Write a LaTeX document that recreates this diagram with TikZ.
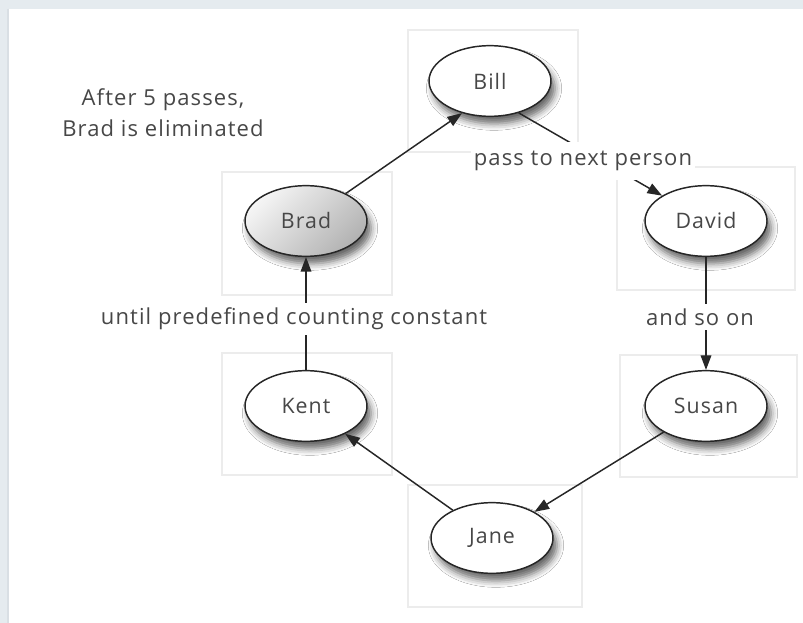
\documentclass[tikz,border=0pt]{standalone}
\usepackage{fontspec}
\setmainfont{Open Sans}[LetterSpace=5]
\usetikzlibrary{shapes.geometric,arrows.meta,shadows.blur}
\definecolor{bgstrip}{HTML}{E5EBEF}
\definecolor{bgedge}{HTML}{D9DFE4}
\definecolor{txt}{HTML}{474747}
\definecolor{boxline}{HTML}{ECECEC}
\begin{document}
\begin{tikzpicture}[x=0.75pt,y=-0.75pt,
  person/.style={ellipse, draw=black!85, line width=1.1pt, fill=white,
    minimum width=91.5pt, minimum height=53pt, inner sep=0pt,
    font=\fontsize{16}{18}\selectfont, text=txt,
    blur shadow={shadow xshift=3pt, shadow yshift=-5.5pt, shadow blur radius=5pt, shadow opacity=60}},
  chosen/.style={top color=gray!8, bottom color=gray!60, shading angle=45},
  lbl/.style={font=\fontsize{16.5}{19}\selectfont, text=txt, fill=white, inner xsep=2pt},
  note/.style={font=\fontsize{16.5}{19}\selectfont, text=txt, align=center},
  link/.style={draw=black!85, line width=1.1pt, -{Triangle[length=11pt,width=8pt]}},
  nodebox/.style={draw=boxline, line width=0.8pt}
]
\useasboundingbox (0,0) rectangle (803,623);
% background frame
\fill[white] (0,0) rectangle (803,623);
\fill[bgstrip] (0,0) rectangle (803,9);
\fill[bgstrip] (0,0) rectangle (8,623);
\draw[bgedge, line width=1pt] (8,9) -- (8,623);
% faint boxes
\draw[nodebox] (408,30) rectangle (578,152);
\draw[nodebox] (222,172) rectangle (392,295);
\draw[nodebox] (617,167) rectangle (795,290);
\draw[nodebox] (620,355) rectangle (797,477);
\draw[nodebox] (222,353) rectangle (392,475);
\draw[nodebox] (408,485) rectangle (582,607);
% people
\node[person] (bill) at (490,81) {Bill};
\node[person, chosen] (brad) at (306,221) {Brad};
\node[person] (david) at (706,221) {David};
\node[person] (kent) at (306,406) {Kent};
\node[person] (susan) at (706,406) {Susan};
\node[person] (jane) at (492,538) {Jane};
% edges
\draw[link] (brad) -- (bill.-131);
\draw[link] (bill.-48) -- (david);
\draw[link] (david) -- (susan);
\draw[link] (susan) -- (jane);
\draw[link] (jane) -- (kent);
\draw[link] (kent) -- (brad);
% labels
\node[lbl, inner ysep=7pt] (l1) at (583,161) {pass to next person};
\node[lbl] (l2) at (700,317) {and so on};
\node[lbl] (l3) at (294,319) {until predefined counting constant};
\node[note] (n1) at (163,113) {After 5 passes,\\[4pt]Brad is eliminated};
\end{tikzpicture}
\end{document}
